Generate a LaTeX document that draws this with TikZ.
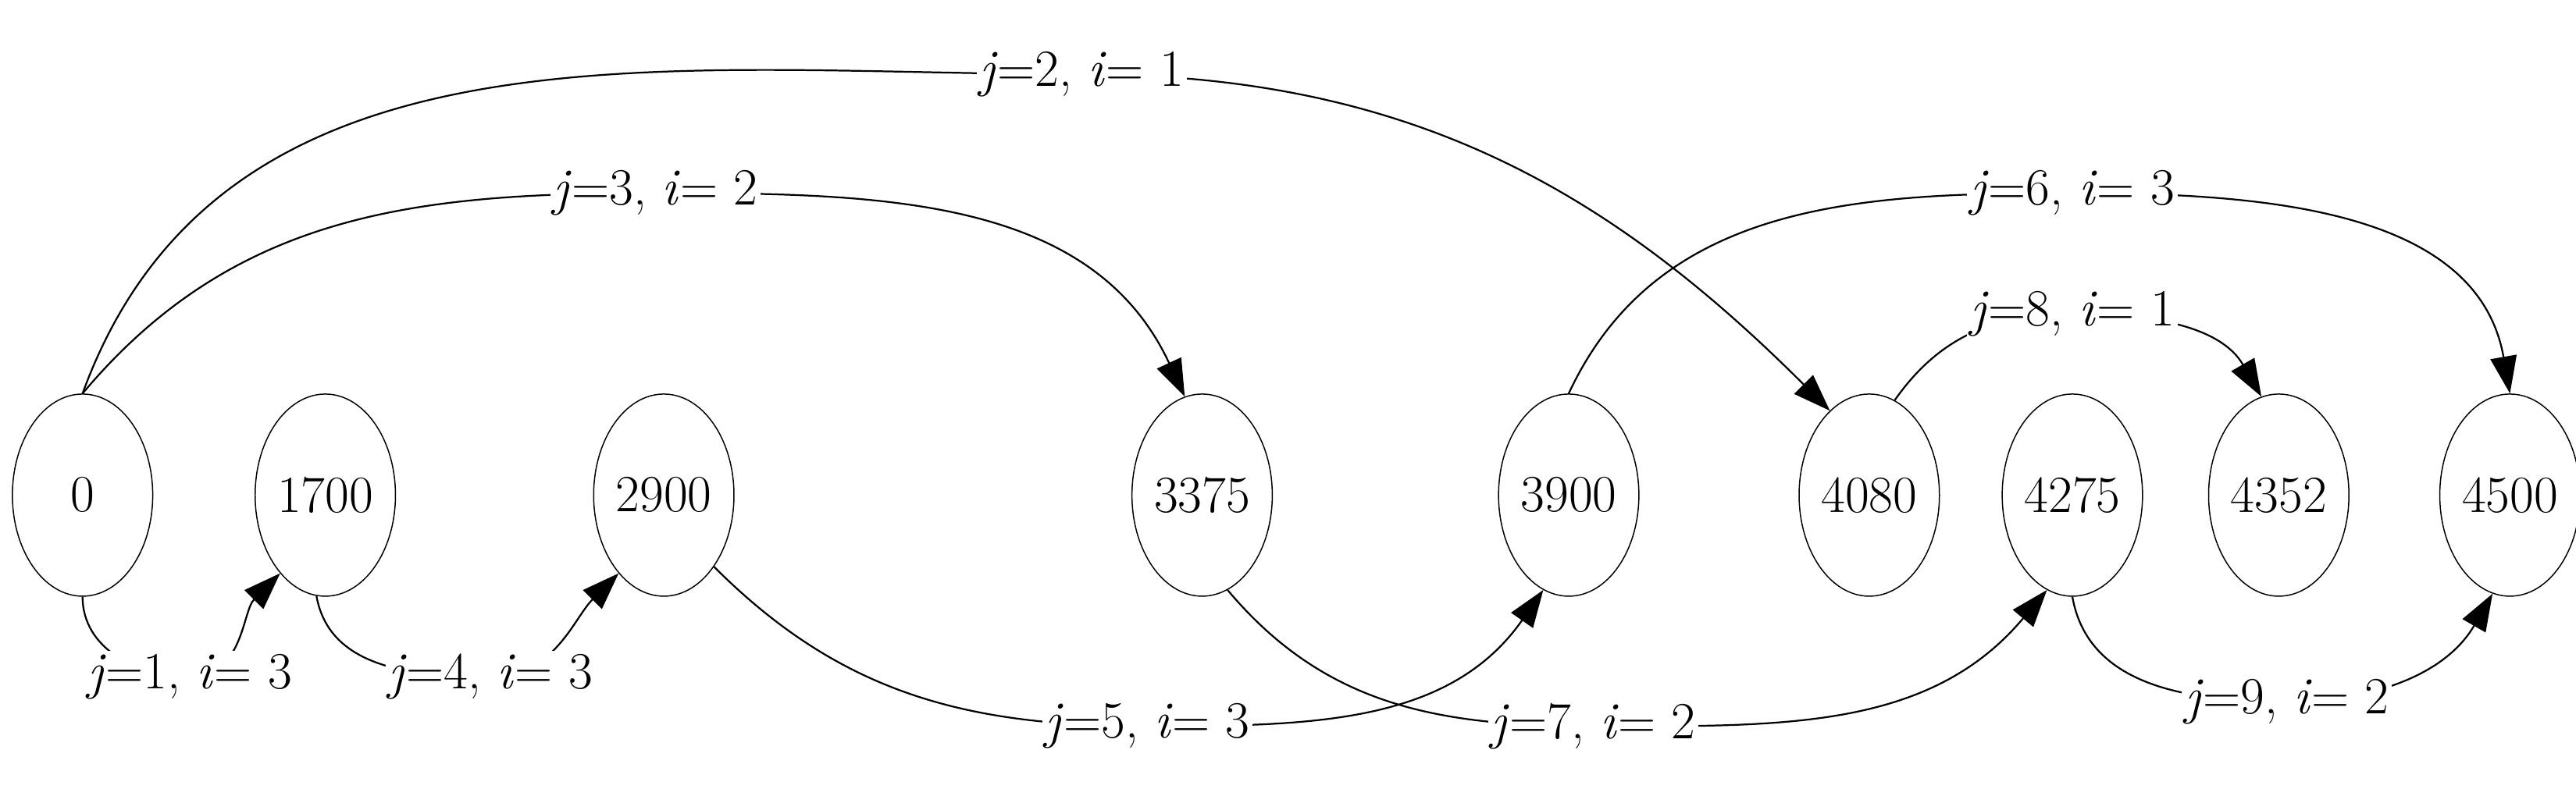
\documentclass[tikz,border=0pt]{standalone}
\usetikzlibrary{arrows.meta,shapes.geometric}
\begin{document}
\begin{tikzpicture}[x=0.02cm,y=0.02cm,
  st/.style={draw,ellipse,minimum width=1.7cm,minimum height=2.45cm,inner sep=0pt,font=\fontsize{18}{22}\selectfont},
  lb/.style={fill=white,inner sep=1pt,font=\fontsize{18}{22}\selectfont},
  ar/.style={-{Triangle[length=0.45cm,width=0.32cm]},line width=0.6pt}]
\useasboundingbox (0,0) rectangle (1560,478);
\foreach \n/\x in {0/50,1700/197,2900/402,3375/728,3900/950,4080/1132,4275/1255,4352/1380,4500/1520}
  \node[st] (n\n) at (\x,178) {\n};
\coordinate (L1) at (115,68); \coordinate (L4) at (297,68);
\coordinate (L5) at (695,38); \coordinate (L7) at (965,38);
\coordinate (L9) at (1385,53); \coordinate (L2) at (655,433);
\coordinate (L3) at (397,361); \coordinate (L6) at (1255,361);
\coordinate (L8) at (1255,288);
\draw[ar] (n0.-90) to[out=-90,in=180] (L1) to[out=0,in=-135] (n1700.-120);
\draw[ar] (n1700.-95) to[out=-80,in=180] (L4) to[out=0,in=-135] (n2900.-120);
\draw[ar] (n2900.-55) to[out=-45,in=180] (L5) to[out=0,in=-125] (n3900.-105);
\draw[ar] (n3375.-75) to[out=-50,in=180] (L7) to[out=0,in=-130] (n4275.-105);
\draw[ar] (n4275.-90) to[out=-80,in=180] (L9) to[out=0,in=-120] (n4500.-100);
\draw[ar] (n0.90) to[out=70,in=180] (L2) to[out=0,in=135] (n4080.115);
\draw[ar] (n0.90) to[out=50,in=180] (L3) to[out=0,in=115] (n3375.100);
\draw[ar] (n3900.90) to[out=65,in=180] (L6) to[out=0,in=100] (n4500.90);
\draw[ar] (n4080.75) to[out=55,in=180] (L8) to[out=0,in=120] (n4352.100);
\node[lb] (t1) at (L1) {\textit{j}=1, \textit{i}= 3};
\node[lb] (t4) at (L4) {\textit{j}=4, \textit{i}= 3};
\node[lb] (t5) at (L5) {\textit{j}=5, \textit{i}= 3};
\node[lb] (t7) at (L7) {\textit{j}=7, \textit{i}= 2};
\node[lb] (t9) at (L9) {\textit{j}=9, \textit{i}= 2};
\node[lb] (t2) at (L2) {\textit{j}=2, \textit{i}= 1};
\node[lb] (t3) at (L3) {\textit{j}=3, \textit{i}= 2};
\node[lb] (t6) at (L6) {\textit{j}=6, \textit{i}= 3};
\node[lb] (t8) at (L8) {\textit{j}=8, \textit{i}= 1};
\end{tikzpicture}
\end{document}
